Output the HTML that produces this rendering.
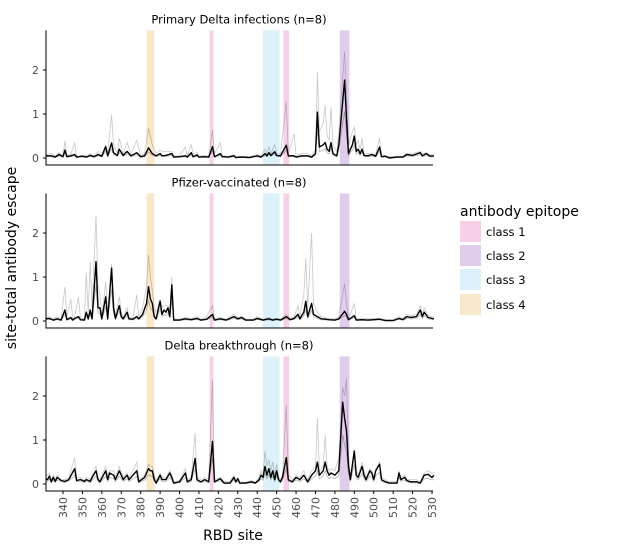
<!DOCTYPE html>
<html><head><meta charset="utf-8"><style>
body{margin:0;background:#fff;font-family:"Liberation Sans","DejaVu Sans",sans-serif}
svg text{font-family:"DejaVu Sans","Liberation Sans",sans-serif}
</style></head><body>
<svg id="chart" width="617" height="553" viewBox="0 0 617 553" xmlns="http://www.w3.org/2000/svg">
<g id="plot"></g>
<text x="16" y="258" transform="rotate(-90 16 258)" text-anchor="middle" font-size="14" fill="#000">site-total antibody escape</text>
<text x="233" y="540" text-anchor="middle" font-size="14" fill="#000">RBD site</text>
<g>
<text x="460" y="216" font-size="14" fill="#000">antibody epitope</text>
<rect x="460" y="221" width="21" height="21" fill="#f7d0e8"/>
<text x="486" y="236" font-size="11.5">class 1</text>
<rect x="460" y="245" width="21" height="21" fill="#e0cdec"/>
<text x="486" y="260" font-size="11.5">class 2</text>
<rect x="460" y="269" width="21" height="21" fill="#dcf1f9"/>
<text x="486" y="284" font-size="11.5">class 3</text>
<rect x="460" y="294" width="21" height="21" fill="#f8e7c8"/>
<text x="486" y="309" font-size="11.5">class 4</text>
</g>
</svg>
<script>
const panelTitles=["Primary Delta infections (n=8)","Pfizer-vaccinated (n=8)","Delta breakthrough (n=8)"];
const yTicks=[0,1,2];
const xTicks=[340,350,360,370,380,390,400,410,420,430,440,450,460,470,480,490,500,510,520,530];
const bandStart=[383,415.5,443,453.5,482.5];
const bandEnd=[387,417.5,451.5,456.5,487.5];
const bandColor=["#f8e7c8","#f7d0e8","#dcf1f9","#f7d0e8","#e0cdec"];
const sitesP1=[331,334,336,338,340,341,342,344,346,347,350,352,354,356,358,360,362,363,365,366,368,369,371,373,375,378,380,382,384,386,388,390,391,393,396,397,400,403,404,406,407,409,410,413,415,417,418,421,422,425,428,429,432,436,440,442,444,445,446,447,449,450,452,455,456,459,460,463,466,468,470,471,472,474,475,476,477,478,479,481,482,485,486,487,489,490,491,492,493,494,495,497,499,501,503,504,506,508,512,515,517,520,524,525,527,529,531];
const meanP1=[.05,.05,.02,.08,.03,.18,.03,.05,.08,.02,.04,.02,.06,.03,.08,.04,.26,.05,.34,.12,.06,.2,.06,.15,.05,.12,.03,.05,.23,.1,.05,.1,.05,.06,.1,.02,.03,.05,.02,.12,.03,.07,.02,.03,.02,.26,.03,.1,.03,.02,.05,.01,.02,.01,.05,.02,.1,.05,.12,.06,.14,.06,.05,.29,.05,.05,.02,.05,.05,.02,.1,1.04,.25,.3,.35,.2,.15,.35,.1,.05,.3,1.77,.9,.1,.3,.5,.15,.2,.1,.2,.06,.05,.08,.04,.25,.03,.04,0,.02,.02,.08,.06,.12,.05,.1,.04,.05];
const maxP1=[.08,.1,.05,.12,.06,.39,.06,.08,.35,.04,.06,.05,.1,.05,.15,.08,.3,.1,.98,.3,.1,.45,.1,.35,.1,.4,.05,.1,.68,.3,.1,.18,.15,.15,.15,.05,.05,.25,.05,.3,.1,.12,.05,.05,.04,.64,.1,.35,.05,.04,.08,.03,.04,.03,.08,.05,.2,.1,.25,.1,.3,.1,.1,1.28,.1,.55,.05,.1,.1,.05,.2,1.96,.6,.8,1.2,.5,.4,1.15,.3,.15,.6,2.42,1.5,.3,.6,.7,.3,.4,.2,.45,.1,.1,.1,.08,.45,.08,.05,.03,.04,.04,.1,.1,.15,.1,.12,.08,.08];
const sitesP2=[331,333,335,337,339,341,342,344,345,346,348,349,351,352,353,354,355,357,358,359,360,362,363,365,366,367,369,370,371,373,374,376,378,379,381,383,384,385,386,387,388,390,391,392,393,394,395,396,397,400,403,406,409,411,414,417,418,421,424,428,430,432,434,438,440,443,446,448,450,452,455,457,459,461,462,464,465,466,468,469,471,473,475,477,480,482,485,486,487,490,491,494,497,500,503,506,510,513,515,517,519,522,524,525,526,528,531];
const meanP2=[.05,.06,.02,.05,.02,.25,.03,.08,.02,.06,.1,.03,.02,.2,.05,.25,.05,1.35,.3,.3,.05,.55,.05,1.2,.3,.06,.35,.1,.05,.2,.05,.04,.1,.05,.15,.4,.78,.5,.4,.1,.05,.45,.15,.25,.2,.3,.1,.82,.02,.02,.05,.03,.06,.02,.04,.15,.02,.05,.02,.1,.05,.08,.02,.02,.06,.02,.05,.02,.04,.02,.1,.03,.06,.15,.05,.2,.45,.1,.4,.15,.1,.05,.04,.03,.02,.05,.22,.15,.03,.12,.02,.03,.02,.03,.04,.01,.01,.06,.03,.1,.08,.1,.25,.1,.2,.08,.05];
const maxP2=[.08,.1,.05,.1,.05,.77,.1,.5,.05,.1,.55,.05,.05,1.1,.2,1.35,.3,2.4,.8,.6,.1,.9,.1,1.3,.5,.1,.55,.2,.08,.3,.08,.06,.6,.1,.3,.8,1.5,1,.7,.3,.2,.5,.3,.35,.35,.35,.2,1,.05,.04,.08,.06,.1,.04,.1,.35,.05,.08,.04,.15,.08,.1,.04,.04,.1,.04,.08,.05,.06,.04,.15,.06,.1,.35,.1,.6,1.43,.3,2,.4,.2,.1,.08,.05,.05,.1,.85,.4,.05,.4,.05,.06,.06,.06,.06,.03,.03,.1,.06,.15,.12,.15,.35,.15,.3,.12,.1];
const sitesP3=[331,332,333,334,335,336,337,339,341,343,346,347,349,351,352,354,355,357,358,359,362,363,364,366,367,369,370,371,373,374,376,378,379,382,384,385,386,387,388,390,391,393,395,396,397,400,403,404,406,408,409,411,413,415,417,418,421,423,426,428,429,430,431,434,437,439,441,442,443,444,445,446,447,448,449,450,451,452,453,455,456,458,460,462,464,466,468,470,471,472,474,475,476,477,478,480,482,484,485,486,487,488,490,491,492,494,495,496,498,499,500,501,503,504,506,508,510,512,513,514,516,517,519,522,524,526,528,530,531];
const meanP3=[.12,.1,.18,.05,.15,.06,.15,.08,.06,.1,.35,.08,.1,.06,.1,.06,.15,.3,.1,.05,.3,.1,.25,.2,.1,.3,.2,.1,.2,.1,.2,.3,.05,.15,.35,.3,.3,.1,.02,.2,.1,.1,.25,.15,.02,.05,.25,.05,.1,.58,.1,.05,.1,.05,.97,.05,.12,.02,.02,.15,.05,.12,.02,.02,.05,.02,.1,.2,.15,.4,.2,.35,.15,.3,.1,.3,.1,.05,.15,.6,.1,.05,.15,.1,.2,.05,.2,.3,.5,.2,.3,.5,.3,.2,.25,.2,.3,1.86,1.5,1.2,.4,.1,.75,.2,.15,.4,.2,.1,.3,.25,.1,.3,.45,.1,.05,.02,.02,.02,.25,.1,.15,.08,.05,.05,.02,.2,.22,.15,.2];
const maxP3=[.2,.2,.25,.1,.2,.1,.2,.1,.1,.15,.6,.15,.15,.08,.15,.1,.2,.4,.15,.1,.4,.2,.3,.3,.15,.4,.25,.15,.25,.15,.3,.5,.1,.2,.45,.4,.4,.2,.08,.25,.15,.15,.3,.2,.05,.08,.35,.1,.15,1.15,.15,.1,.15,.1,2.36,.1,.15,.05,.05,.2,.08,.15,.05,.04,.08,.04,.15,.3,.2,.75,.4,.55,.3,.5,.2,.45,.15,.1,.2,1.8,.2,.1,.2,.15,.3,.1,.3,.4,1.5,.3,.4,1.1,.4,.3,.35,.3,.6,2.2,2,2.4,.6,.2,.75,.3,.2,.5,.3,.15,.35,.3,.15,.35,.5,.15,.1,.05,.05,.05,.3,.15,.2,.1,.1,.1,.05,.25,.3,.25,.25];
const panelSites=[sitesP1,sitesP2,sitesP3];
const panelMean=[meanP1,meanP2,meanP3];
const panelMax=[maxP1,maxP2,maxP3];
const panelZero=[158,321,484];
const NS="http://www.w3.org/2000/svg";
const plot=document.getElementById('plot');
const X0=46,X1=433;
function x(s){return 63+(s-340)*(369/190);}
function mk(tag,attrs,parent){const e=document.createElementNS(NS,tag);for(const k in attrs)e.setAttribute(k,attrs[k]);(parent||plot).appendChild(e);return e;}
for(let p=0;p<3;p++){
  const z=panelZero[p];
  const y=v=>z-v*44;
  const top=y(2.9),bot=y(-0.16);
  const g=mk('g',{});
  
  
  for(let b=0;b<bandStart.length;b++){
    const r=mk('rect',{x:x(bandStart[b]),y:top,width:x(bandEnd[b])-x(bandStart[b]),height:bot-top,fill:bandColor[b]},g);
    
    
  }
  const t=mk('text',{x:239,y:top-7,'text-anchor':'middle','font-size':'11.5',fill:'#000'},g);
  t.textContent=panelTitles[p];
  
  
  const S=panelSites[p],M=panelMean[p],MX=panelMax[p];
  let dmax='',dmin='',dm='';
  S.forEach((s,i)=>{
    dmax+=(i?'L':'M')+x(s).toFixed(1)+','+y(MX[i]).toFixed(1);
    dm+=(i?'L':'M')+x(s).toFixed(1)+','+y(M[i]).toFixed(1);
    dmin+=(i?'L':'M')+x(s).toFixed(1)+','+y(Math.max(0,M[i]*0.6)).toFixed(1);
  });
  const l1=mk('path',{d:dmax,fill:'none',stroke:'#000','stroke-opacity':0.22,'stroke-width':0.8},g);
  
  
  const l2=mk('path',{d:dmin,fill:'none',stroke:'#000','stroke-opacity':0.3,'stroke-width':0.8},g);
  
  
  const l3=mk('path',{d:dm,fill:'none',stroke:'#000','stroke-width':1.4,'stroke-linejoin':'round'},g);
  
  
  const ax=mk('path',{d:`M${X0},${top}V${bot}H${X1}`,fill:'none',stroke:'#000','stroke-width':1},g);
  
  
  yTicks.forEach(v=>{
    mk('line',{x1:X0-3,x2:X0,y1:y(v),y2:y(v),stroke:'#000'},g);
    const tl=mk('text',{x:X0-7,y:y(v)+4,'text-anchor':'end','font-size':'11',fill:'#4d4d4d'},g);
    tl.textContent=v;
    
    
  });
  if(p===2){
    xTicks.forEach(s=>{
      mk('line',{x1:x(s),x2:x(s),y1:bot,y2:bot+3,stroke:'#000'},g);
      const tl=mk('text',{x:0,y:0,'text-anchor':'end','font-size':'11',fill:'#4d4d4d',transform:`translate(${x(s)+4},${bot+6}) rotate(-90)`},g);
      tl.textContent=s;
      
      
    });
  }
}
</script>
</body></html>
